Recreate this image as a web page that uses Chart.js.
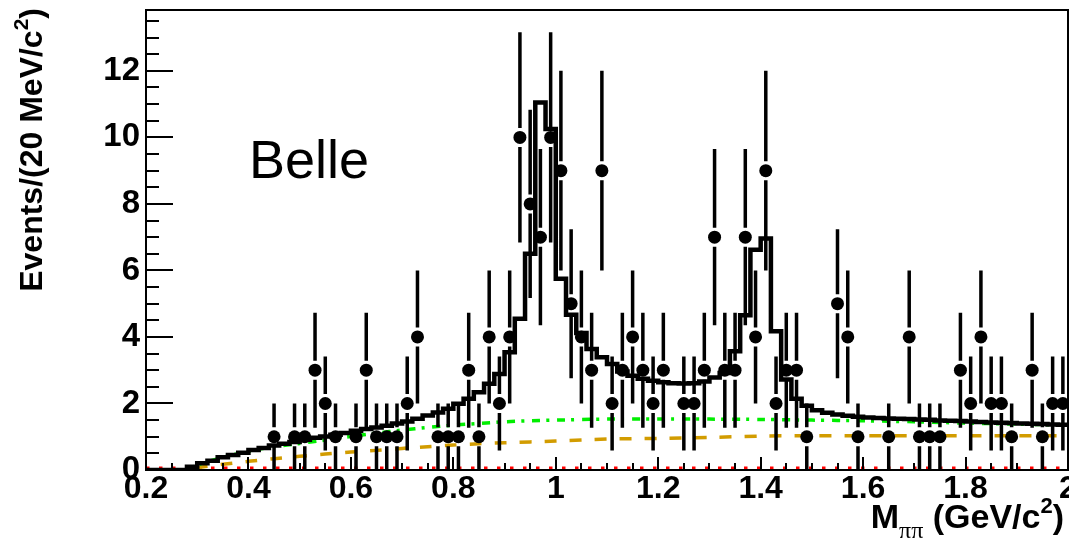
<!DOCTYPE html>
<html><head><meta charset="utf-8">
<script src="https://cdn.jsdelivr.net/npm/chart.js@4.4.1/dist/chart.umd.min.js"></script>
<style>html,body{margin:0;padding:0;background:#fff;}#wrap{width:1069px;height:546px;position:relative;}</style>
</head><body><div id="wrap"><canvas id="c" width="1069" height="546"></canvas></div>
<script>
// ---- axis ticks ----
const xTickValues = [0.2, 0.4, 0.6, 0.8, 1.0, 1.2, 1.4, 1.6, 1.8, 2.0];
const xTickLabels = ['0.2', '0.4', '0.6', '0.8', '1', '1.2', '1.4', '1.6', '1.8', '2'];
const yTickValues = [0, 2, 4, 6, 8, 10, 12];
const yTickLabels = ['0', '2', '4', '6', '8', '10', '12'];

// ---- data points (20 MeV bins, non-empty bins) ----
const dataMass = [0.45,0.49,0.51,0.53,0.55,0.57,0.61,0.63,0.65,0.67,0.69,0.71,0.73,0.77,0.79,0.81,0.83,0.85,0.87,0.89,0.91,
  0.93,0.95,0.97,0.99,1.01,1.03,1.05,1.07,1.09,1.11,1.13,1.15,1.17,1.19,1.21,1.25,1.27,1.29,1.31,1.33,1.35,1.37,1.39,1.41,1.43,
  1.45,1.47,1.49,1.55,1.57,1.59,1.65,1.69,1.71,1.73,1.75,1.79,1.81,1.83,1.85,1.87,1.89,1.93,1.95,1.97,1.99];
const dataCounts = [1,1,1,3,2,1,1,3,1,1,1,2,4,1,1,1,3,1,4,2,4,
  10,8,7,10,9,5,4,3,9,2,3,4,3,2,3,2,2,3,7,3,3,7,4,9,2,
  3,3,1,5,4,1,1,4,1,1,1,3,2,4,2,2,1,3,1,2,2];
const dataErrors = [1,1,1,1.73,1.41,1,1,1.73,1,1,1,1.41,2,1,1,1,1.73,1,2,1.41,2,
  3.16,2.83,2.65,3.16,3,2.24,2,1.73,3,1.41,1.73,2,1.73,1.41,1.73,1.41,1.41,1.73,2.65,1.73,1.73,2.65,2,3,1.41,
  1.73,1.73,1,2.24,2,1,1,2,1,1,1,1.73,1.41,2,1.41,1.41,1,1.73,1,1.41,1.41];

// ---- total fit, drawn as a 20 MeV histogram from 0.20 to 2.00 ----
const fitBinStart = 0.2;
const fitBinWidth = 0.02;
const fitValues = [0,0,0,0,0.10,0.20,0.28,0.38,0.45,0.52,0.60,0.66,0.74,0.79,0.84,0.91,0.97,1.01,1.06,1.11,
  1.18,1.23,1.28,1.33,1.40,1.46,1.54,1.64,1.73,1.84,1.99,2.14,2.34,2.59,2.89,3.54,4.55,6.50,11.05,10.25,
  5.75,4.67,4.12,3.64,3.39,3.19,2.96,2.83,2.74,2.68,2.64,2.61,2.60,2.61,2.66,2.78,2.92,3.57,4.65,6.62,
  6.96,4.17,2.72,2.14,1.93,1.80,1.72,1.67,1.63,1.60,1.58,1.56,1.55,1.54,1.53,1.52,1.51,1.49,1.48,1.47,
  1.46,1.44,1.43,1.42,1.41,1.40,1.39,1.38,1.37,1.36];

// ---- component curves ----
const greenMass = [0.28,0.30,0.35,0.40,0.45,0.50,0.55,0.60,0.65,0.70,0.75,0.80,0.85,0.90,0.95,1.0,1.1,1.2,1.3,1.4,1.5,1.6,1.7,1.8,1.9,2.0];
const greenVals = [0,0.15,0.38,0.56,0.70,0.80,0.90,1.01,1.11,1.20,1.28,1.35,1.40,1.45,1.48,1.50,1.53,1.53,1.53,1.52,1.50,1.48,1.45,1.41,1.38,1.35];
const orangeMass = [0.20,0.28,0.30,0.35,0.40,0.45,0.50,0.55,0.60,0.65,0.70,0.75,0.80,0.85,0.90,1.0,1.1,1.2,1.3,1.4,1.5,1.6,1.7,1.8,1.9,2.0];
const orangeVals = [0,0,0.07,0.17,0.26,0.34,0.41,0.48,0.54,0.59,0.65,0.70,0.75,0.79,0.82,0.87,0.93,0.95,0.98,1.02,1.03,1.03,1.03,1.03,1.03,1.03];
const redMass = [0.20, 2.0];
const redVals = [0.05, 0.05];

const FONT = "'Liberation Sans', Arial, Helvetica, sans-serif";

const fitPoints = fitValues.map((v, i) => ({x: fitBinStart + i * fitBinWidth, y: v}));
fitPoints.push({x: fitBinStart + fitValues.length * fitBinWidth, y: fitValues[fitValues.length - 1]});

const pairs = (xs, ys) => xs.map((x, i) => ({x: x, y: ys[i]}));

const errorBars = {
  id: 'errorBars',
  beforeDatasetDraw(chart, args) {
    if (args.index !== 4) return;
    const ctx = chart.ctx, ys = chart.scales.y, meta = chart.getDatasetMeta(4), ca = chart.chartArea;
    ctx.save();
    ctx.beginPath(); ctx.rect(ca.left, ca.top, ca.right - ca.left, ca.bottom - ca.top); ctx.clip();
    ctx.strokeStyle = '#000'; ctx.lineWidth = 3.5; ctx.lineCap = 'butt';
    const gap = 9.5;
    meta.data.forEach((el, i) => {
      const v = dataCounts[i], e = dataErrors[i];
      const yt = ys.getPixelForValue(v + e), yb = ys.getPixelForValue(v - e);
      ctx.beginPath();
      if (el.y - gap > yt) { ctx.moveTo(el.x, yt); ctx.lineTo(el.x, el.y - gap); }
      if (el.y + gap < yb) { ctx.moveTo(el.x, el.y + gap); ctx.lineTo(el.x, yb); }
      ctx.stroke();
    });
    ctx.restore();
  }
};

const frameAndText = {
  id: 'frameAndText',
  afterDraw(chart) {
    const ctx = chart.ctx, ca = chart.chartArea, xs = chart.scales.x, ys = chart.scales.y;
    ctx.save();
    ctx.strokeStyle = '#000'; ctx.lineWidth = 2;
    ctx.strokeRect(ca.left, ca.top, ca.right - ca.left, ca.bottom - ca.top);
    // x ticks (inside)
    ctx.beginPath();
    for (let k = 0; k <= 36; k++) {
      const v = 0.2 + k * 0.05;
      const px = Math.round(xs.getPixelForValue(v));
      const major = (k % 4 === 0);
      ctx.moveTo(px, ca.bottom); ctx.lineTo(px, ca.bottom - (major ? 13 : 7));
    }
    // y ticks (inside)
    for (let k = 0; k <= 27; k++) {
      const v = k * 0.5;
      const py = Math.round(ys.getPixelForValue(v));
      const major = (k % 4 === 0);
      ctx.moveTo(ca.left, py); ctx.lineTo(ca.left + (major ? 27 : 13), py);
    }
    ctx.stroke();

    ctx.fillStyle = '#000';
    // x tick labels
    ctx.font = "bold 32px " + FONT;
    ctx.textAlign = 'center'; ctx.textBaseline = 'alphabetic';
    xTickValues.forEach((v, i) => ctx.fillText(xTickLabels[i], xs.getPixelForValue(v), 498));

    // Belle
    ctx.font = "54px " + FONT;
    ctx.textAlign = 'left';
    ctx.fillText('Belle', 249, 178);

    // y title
    ctx.save();
    ctx.translate(42, 8);
    ctx.rotate(-Math.PI / 2);
    const fMain = "bold 32px " + FONT, fSup = "bold 21px " + FONT;
    ctx.font = fMain; const w1 = ctx.measureText('Events/(20 MeV/c').width; const w3 = ctx.measureText(')').width;
    ctx.font = fSup; const w2 = ctx.measureText('2').width;
    let x0 = -(w1 + w2 + w3);
    ctx.textAlign = 'left';
    ctx.font = fMain; ctx.fillText('Events/(20 MeV/c', x0, 0);
    ctx.font = fSup; ctx.fillText('2', x0 + w1, -14);
    ctx.font = fMain; ctx.fillText(')', x0 + w1 + w2, 0);
    ctx.restore();

    // x title
    const xf = "bold 34px " + FONT, xsub = "24px 'Liberation Serif', 'DejaVu Serif', serif", xsup = "bold 22px " + FONT;
    ctx.font = xf; const a1 = ctx.measureText('M').width, a3 = ctx.measureText(' (GeV/c').width, a5 = ctx.measureText(')').width;
    ctx.font = xsub; const a2 = ctx.measureText('\u03c0\u03c0').width;
    ctx.font = xsup; const a4 = ctx.measureText('2').width;
    let xx = 1064 - (a1 + a2 + a3 + a4 + a5);
    const bl = 528;
    ctx.font = xf; ctx.fillText('M', xx, bl); xx += a1;
    ctx.font = xsub; ctx.fillText('\u03c0\u03c0', xx, bl + 10); xx += a2;
    ctx.font = xf; ctx.fillText(' (GeV/c', xx, bl); xx += a3;
    ctx.font = xsup; ctx.fillText('2', xx, bl - 15); xx += a4;
    ctx.font = xf; ctx.fillText(')', xx, bl);
    ctx.restore();
  }
};

new Chart(document.getElementById('c'), {
  type: 'line',
  data: {
    datasets: [
      {label: 'total', data: fitPoints, stepped: true, borderColor: '#000', borderWidth: 4.5, pointRadius: 0,
       fill: false, borderJoinStyle: 'miter', borderCapStyle: 'butt', order: 1},
      {label: 'green', data: pairs(greenMass, greenVals), borderColor: '#00ee00', borderWidth: 3.5, pointRadius: 0,
       fill: false, tension: 0.3, borderDash: [8, 6, 3, 8], order: 2},
      {label: 'orange', data: pairs(orangeMass, orangeVals), borderColor: '#d29c00', borderWidth: 3.5, pointRadius: 0,
       fill: false, tension: 0.3, borderDash: [12, 13], order: 3},
      {label: 'red', data: pairs(redMass, redVals), borderColor: '#ff0000', borderWidth: 3.5, pointRadius: 0,
       fill: false, borderDash: [3.5, 9.5], order: 4},
      {label: 'data', type: 'scatter', data: pairs(dataMass, dataCounts), showLine: false, pointRadius: 6.5,
       pointBackgroundColor: '#000', pointBorderColor: '#000', pointBorderWidth: 0, order: 0}
    ]
  },
  options: {
    responsive: false, animation: false, devicePixelRatio: 1,
    layout: {autoPadding: false, padding: {top: 10, right: 1, left: 0, bottom: 0}},
    plugins: {legend: {display: false}, tooltip: {enabled: false}},
    scales: {
      x: {type: 'linear', min: 0.2, max: 2.0,
          grid: {display: false, drawTicks: false}, border: {display: false},
          afterBuildTicks: s => { s.ticks = xTickValues.map(v => ({value: v})); },
          afterFit: s => { s.height = 76; s.paddingLeft = 0; s.paddingRight = 0; },
          ticks: {display: false}},
      y: {type: 'linear', min: 0, max: 13.83,
          grid: {display: false, drawTicks: false}, border: {display: false},
          afterBuildTicks: s => { s.ticks = yTickValues.map(v => ({value: v})); },
          afterFit: s => { s.width = 146; s.paddingTop = 0; s.paddingBottom = 0; },
          ticks: {autoSkip: false, padding: 6, color: '#000',
                  font: {family: FONT, weight: 'bold', size: 33},
                  callback: (v, i) => yTickLabels[i]}}
    }
  },
  plugins: [errorBars, frameAndText]
});
</script>
</body></html>
